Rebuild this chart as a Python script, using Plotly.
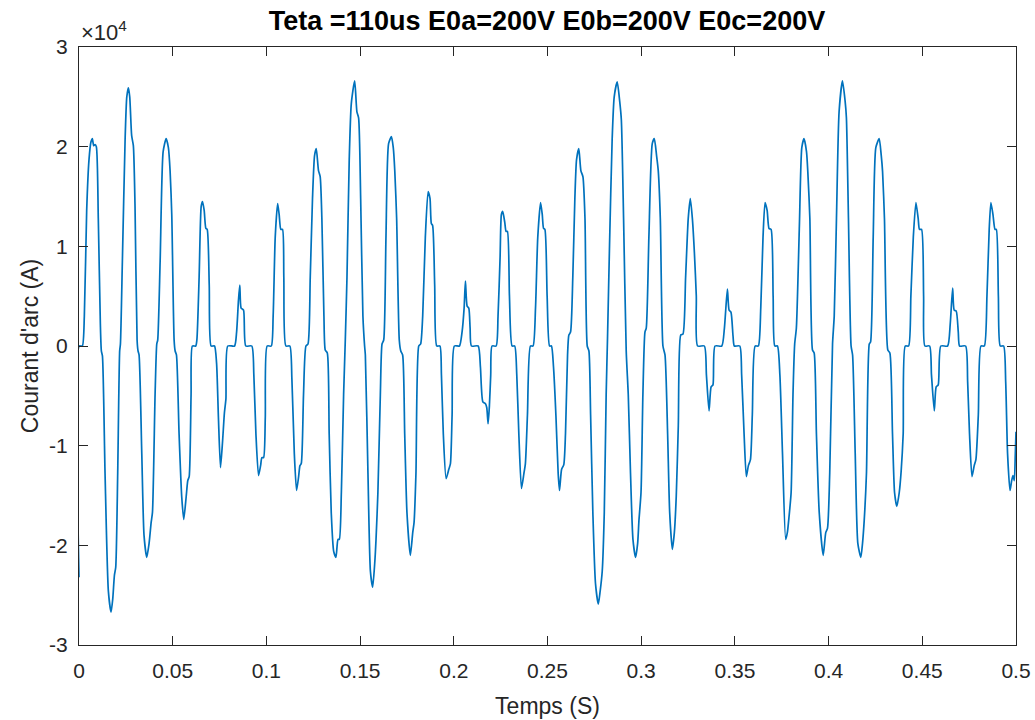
import plotly.graph_objects as go

# Time in milliseconds, current in units of 1e4 A
T_MS = [
    0, 0.1, 1.78, 2.85, 4.1, 5.34, 6.4, 7.12, 7.84, 8.55, 9.26, 10.3, 11.4, 11.93, 12.5,
    13.9, 15.67, 17.1, 18.0, 18.9, 19.6, 20.65, 21.7, 22.1, 23.15, 24.6, 25.5, 26.35, 27.07,
    28.1, 29.0, 29.9, 31.0, 31.5, 32.05, 33.5, 34.7, 36.15, 37.4, 38.5, 39.2, 40.6, 41.5,
    42.0, 43.3, 44.9, 46.5, 47.7, 48.6, 49.5, 50.75, 51.3, 52.0, 53.4, 54.8, 55.9, 57.2,
    58.05, 58.8, 59.8, 60.5, 62.3,
    62.9, 64.1, 65.2, 65.9, 66.8, 67.7, 68.4, 69.5, 70.5, 72.3, 73.4, 74.4, 75.5, 76.6,
    77.6, 78.4, 79.4, 83.0, 84.1, 85.1, 85.8, 86.5, 87.8, 89.0, 92.2, 93.3, 94.4, 95.8,
    96.9, 97.6, 98.5, 99.4, 100.4, 102.6, 103.6, 104.7, 106.0, 106.8, 107.7, 108.6, 109.3,
    110.4, 112.5, 113.6, 114.9, 116.1, 117.2, 117.9, 118.6, 119.8, 121.1, 122.2, 123.4,
    124.6, 125.7, 126.6, 127.8, 128.7,
    129.6, 130.7, 131.4, 132.5, 133.5, 134.6, 135.9, 137.1, 138.2, 138.9, 140.0, 141.2,
    142.1, 143.0, 144.2, 145.3, 147.1, 148.3, 149.2, 150.3, 151.5, 152.4, 152.8, 154.2,
    155.5, 156.7, 157.8, 158.5, 159.5, 160.8, 161.7, 162.6, 163.8, 165.2, 166.7, 167.7,
    168.5, 169.5, 170.9, 171.7, 172.7, 173.8, 175.0, 176.8, 178.1, 178.8, 179.8, 181.3,
    182.3, 183.4, 184.8, 186.3, 187.3, 188.0, 188.7, 189.8, 190.9, 192.6,
    193.4, 194.4, 195.9, 197.3, 198.2, 199.1, 200.3, 203.0, 204.4, 205.5, 206.2, 207.1,
    208.0, 208.7, 209.4, 213.0, 214.2, 215.5, 216.9, 217.6, 218.3, 219.0, 219.7, 220.4,
    222.6, 223.6, 224.7, 225.4, 226.1, 227.2, 227.9, 228.6, 229.7, 231.1, 232.5, 233.6,
    234.7, 236.1, 237.4, 238.2, 239.3, 240.9, 242.3, 243.6, 244.8, 246.3, 247.2, 247.9,
    248.6, 249.8, 251.1, 252.1, 253.2, 254.5,
    255.7, 256.4, 257.5, 258.7, 259.6, 260.7, 261.4, 262.3, 263.5, 264.6, 265.5, 266.7,
    267.8, 268.9, 270.0, 271.2, 272.1, 273.0, 274.2, 275.6, 277.1, 278.1, 279.2, 280.3,
    281.3, 282.0, 283.1, 284.5, 285.6, 287.2, 288.5, 289.4, 290.6, 292.0, 293.1, 294.3,
    295.6, 297.0, 298.1, 298.8, 299.9, 300.9, 302.0, 302.7, 304.1, 305.9, 307.0, 308.2,
    309.1, 310.2, 311.6, 312.7, 314.1, 315.2, 316.6, 317.7, 318.7, 319.8,
    321.1, 322.3, 323.7, 325.1, 326.2, 327.3, 328.4, 329.4, 330.1, 333.7, 334.8, 336.2,
    337.3, 338.3, 339.4, 343.0, 344.4, 346.0, 346.9, 347.9, 349.0, 349.7, 352.6, 353.6,
    354.9, 356.1, 357.2, 358.3, 359.3, 360.8, 362.5, 363.8, 365.0, 366.1, 367.2, 368.2,
    369.3, 370.4, 371.3, 372.7, 374.0, 375.4, 377.1, 378.0, 378.9, 380.0, 381.0, 381.9,
    382.8, 384.4,
    385.7, 386.9, 388.2, 388.9, 390.0, 391.4, 392.3, 393.5, 395.0, 397.1, 398.5, 399.4,
    400.6, 402.1, 403.0, 404.2, 405.6, 407.4, 408.8, 409.5, 410.6, 412.0, 412.8, 414.2,
    415.6, 417.2, 418.1, 419.0, 420.2, 421.7, 422.4, 423.8, 425.2, 427.0, 428.1, 428.8,
    429.8, 431.6, 432.7, 434.1, 435.2, 436.4, 437.7, 438.7, 439.8, 440.9, 442.7, 443.9,
    445.2, 446.6, 447.8, 448.5, 449.6, 450.7, 451.4, 453.9, 454.9, 456.4, 457.4, 458.5,
    459.9, 463.5, 464.9, 466.2, 467.0, 468.1, 469.2, 469.9, 473.1, 474.2, 475.2, 476.5,
    477.7, 478.6, 479.9, 481.3, 483.1, 484.5, 485.7, 486.6, 487.7, 488.8, 489.5, 490.6,
    491.6, 493.4, 494.5, 495.5, 496.8, 497.7, 498.4, 499.1, 499.6, 500.0,
]

I_E4 = [
    -2.32, 0, 0, 0.30, 1.36, 1.87, 2.05, 2.08, 2.01, 2.02, 2.0, 1.28, 0.22, -0.05, -0.1,
    -1.28, -2.46, -2.67, -2.54, -2.3, -2.22, -1.28, -0.05, 0.02, 0.85, 2.07, 2.5, 2.59, 2.5,
    2.11, 2.01, 1.4, 0.06, -0.05, -0.09, -1.08, -1.9, -2.12, -1.98, -1.77, -1.67, -0.49, 0.02,
    0.06, 0.85, 1.95, 2.08, 1.99, 1.76, 1.32, 0.06, -0.05, -0.09, -0.88, -1.51, -1.74, -1.51,
    -1.35, -1.31, -0.49, 0, 0,
    0.06, 0.69, 1.40, 1.45, 1.36, 1.18, 1.17, 0.61, 0, 0, -0.17, -0.72, -1.22, -0.96,
    -0.67, -0.53, 0, 0, 0.14, 0.46, 0.61, 0.38, 0.36, 0, 0, -0.29, -0.88, -1.30,
    -1.20, -1.12, -1.12, -0.72, 0, 0, 0.30, 1.09, 1.43, 1.32, 1.17, 1.17, 0.69,
    0, 0, -0.33, -1.08, -1.45, -1.31, -1.20, -1.18, -0.49, 0, 0.02, 0.69,
    1.48, 1.91, 1.98, 1.76, 1.70,
    1.28, 0.30, -0.04, -0.07, -0.88, -1.67, -2.06, -2.12, -1.94, -1.94, -1.47, -0.49,
    0.06, 0.69, 1.87, 2.43, 2.66, 2.35, 2.29, 1.48, 0.30, 0, -0.09, -1.28,
    -2.26, -2.42, -2.18, -1.94, -1.47, -0.49, 0.02, 0.06, 1.09, 2.03, 2.10, 1.99,
    1.76, 1.28, 0.06, -0.05, -0.09, -0.88, -1.67, -2.10, -1.87, -1.77, -1.28, 0,
    0.02, 0.30, 1.09, 1.55, 1.48, 1.23, 1.21, 0.61, 0, 0,
    -0.29, -0.88, -1.33, -1.24, -1.18, -0.69, 0, 0, 0.14, 0.38, 0.65, 0.40,
    0.38, 0.18, 0, 0, -0.21, -0.56, -0.58, -0.62, -0.78, -0.60, -0.29, 0,
    0, 0.30, 0.89, 1.32, 1.35, 1.24, 1.15, 1.15, 0.50, 0, 0, -0.29,
    -0.88, -1.43, -1.28, -1.18, -0.69, 0, 0, 0.38, 1.09, 1.44, 1.32, 1.18,
    1.17, 0.50, 0, 0, -0.21, -0.70,
    -1.28, -1.45, -1.24, -1.19, -0.88, -0.09, 0.11, 0.14, 0.69, 1.48, 1.87, 1.98,
    1.76, 1.70, 1.28, 0, -0.05, -0.69, -1.67, -2.38, -2.59, -2.46, -2.26, -1.67,
    -0.49, 0.06, 1.01, 2.07, 2.50, 2.65, 2.46, 2.27, 1.28, -0.05, -0.49, -1.28,
    -1.94, -2.12, -1.98, -1.75, -1.47, -0.49, 0.14, 0.18, 1.09, 2.03, 2.08, 1.91,
    1.76, 1.28, 0, -0.09, -0.88, -1.67, -2.04, -1.87, -1.51, -0.80,
    0.11, 0.12, 0.69, 1.28, 1.48, 1.28, 0.93, 0.50, 0, 0, -0.29, -0.65,
    -0.41, -0.39, 0, 0, 0.18, 0.57, 0.36, 0.34, 0.10, 0, 0, -0.29,
    -0.88, -1.31, -1.20, -1.14, -0.69, 0, 0, 0.38, 1.09, 1.44, 1.36, 1.18,
    1.17, 0.50, 0, 0, -0.29, -1.08, -1.94, -1.87, -1.71, -1.47, -0.49, 0.02,
    0.18, 1.20,
    1.99, 2.08, 1.95, 1.75, 1.28, -0.04, -0.07, -0.88, -1.67, -2.10, -1.87, -1.83,
    -1.28, 0.02, 0.30, 1.28, 2.35, 2.66, 2.46, 2.29, 1.28, 0, -0.09, -1.08,
    -1.98, -2.12, -1.98, -1.75, -1.28, 0.02, 0.04, 1.09, 1.99, 2.08, 1.91, 1.75,
    1.28, -0.04, -0.07, -0.88, -1.47, -1.61, -1.47, -1.26, -0.88, 0, 0, 0.50,
    1.09, 1.44, 1.28, 1.17, 1.17, 0.50, 0, 0, -0.29, -0.65, -0.41, -0.39,
    0, 0, 0.22, 0.58, 0.36, 0.35, 0.14, 0, 0, -0.36, -0.88, -1.31,
    -1.20, -1.14, -0.69, 0, 0, 0.50, 1.17, 1.44, 1.32, 1.17, 1.17, 0.50,
    0, 0, -0.36, -1.08, -1.45, -1.35, -1.30, -1.35, -1.10, -0.86,
]

X_TICKS = [0, 0.05, 0.1, 0.15, 0.2, 0.25, 0.3, 0.35, 0.4, 0.45, 0.5]
X_TICK_TEXT = ["0", "0.05", "0.1", "0.15", "0.2", "0.25", "0.3", "0.35", "0.4", "0.45", "0.5"]
Y_TICKS_E4 = [-3, -2, -1, 0, 1, 2, 3]
Y_TICK_TEXT = ["-3", "-2", "-1", "0", "1", "2", "3"]

TITLE = "Teta =110us E0a=200V E0b=200V E0c=200V"
X_LABEL = "Temps (S)"
Y_LABEL = "Courant d'arc (A)"

t_s = [v / 1000.0 for v in T_MS]
current = [v * 1e4 for v in I_E4]

FONT = "Liberation Sans, Arial, Helvetica, sans-serif"
TXT = "#262626"

fig = go.Figure()
fig.add_trace(go.Scatter(
    x=t_s, y=current, mode="lines",
    line=dict(color="#0072BD", width=1.7, shape="spline", smoothing=0.6),
    showlegend=False, hoverinfo="x+y",
))

axis_common = dict(
    showgrid=False, zeroline=False, showline=True, linecolor=TXT, linewidth=1,
    mirror="ticks", ticks="inside", ticklen=9, tickcolor=TXT, tickwidth=1,
    tickfont=dict(family=FONT, size=21, color=TXT), automargin=False,
)

fig.update_layout(
    width=1035, height=720,
    paper_bgcolor="white", plot_bgcolor="white",
    margin=dict(l=79, r=19, t=47, b=75),
    title=dict(text="<b>" + TITLE + "</b>", x=0.5285, xanchor="center",
               y=1 - 21 / 720, yanchor="middle", yref="container",
               font=dict(family=FONT, size=27, color="black")),
    xaxis=dict(range=[0, 0.5], tickvals=X_TICKS, ticktext=X_TICK_TEXT,
               title=dict(text=X_LABEL, font=dict(family=FONT, size=23, color=TXT), standoff=16),
               ticklabelstandoff=7, **axis_common),
    yaxis=dict(range=[-3e4, 3e4], tickvals=[v * 1e4 for v in Y_TICKS_E4], ticktext=Y_TICK_TEXT,
               title=dict(text=Y_LABEL, font=dict(family=FONT, size=23, color=TXT), standoff=4),
               ticklabelstandoff=6, **axis_common),
    font=dict(family=FONT, color=TXT),
)

fig.add_annotation(
    text="×10<sup>4</sup>", xref="paper", yref="paper", x=0, y=1,
    xanchor="left", yanchor="bottom", showarrow=False, xshift=0, yshift=0,
    font=dict(family=FONT, size=22, color=TXT),
)

fig.write_html(
    "out.html",
    config={"displayModeBar": False},
    post_script="document.body.style.margin='0';document.body.style.padding='0';",
)
